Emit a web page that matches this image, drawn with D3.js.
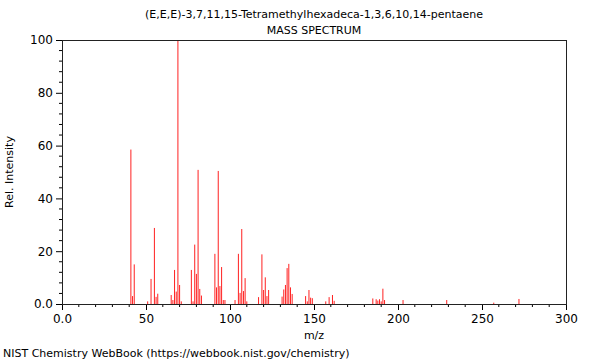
<!DOCTYPE html>
<html><head><meta charset="utf-8">
<script src="https://cdn.jsdelivr.net/npm/d3@7"></script>
<style>body{margin:0;background:#fff}svg{display:block}text{font-family:"DejaVu Sans",sans-serif;fill:#000}</style>
</head><body><svg id="c" width="600" height="360"></svg>
<script>
const mz = [41,42,43,51,53,55,56,57,65,66,67,68,69,70,71,77,78,79,80,81,82,83,91,92,93,94,95,96,97,103,105,106,107,108,109,110,117,119,120,121,122,123,131,132,133,134,135,136,137,145,146,147,148,149,157,159,161,162,185,187,188,189,190,191,192,203,229,257,272];
const intensity = [58.5,3,15,1,9.5,28.8,2.7,3.9,3.4,1.5,12.9,4.7,100,7.2,1,12.9,1,22.5,11.4,50.8,5.7,3.2,19,6.3,50.4,6.8,14,1.5,1.5,1.5,19,4.2,28.4,4.9,9.8,1,2.6,18.8,5.3,10.1,3,5.3,2.8,5.5,7.2,13.6,15.2,6.3,3.8,3,1,5.3,2.4,2.2,1,2.6,3.4,1.2,2.1,1.8,1.3,1.8,1,5.8,1.5,1.5,1.5,0.5,1.9];
const xMajor = [0,50,100,150,200,250,300];
const xLabels = ["0.0","50","100","150","200","250","300"];
const yMajor = [0,20,40,60,80,100];
const yLabels = ["0.0","20","40","60","80","100"];
const title1 = "(E,E,E)-3,7,11,15-Tetramethylhexadeca-1,3,6,10,14-pentaene";
const title2 = "MASS SPECTRUM";

const svg = d3.select("#c");
const L=62,R=566,T=40,B=304;
const x = d3.scaleLinear().domain([0,300]).range([L,R]);
const y = d3.scaleLinear().domain([0,100]).range([B,T]);

// peaks
svg.append("g").selectAll("line").data(mz).join("line")
  .attr("x1",(d)=>x(d)).attr("x2",(d)=>x(d))
  .attr("y1",y(0)).attr("y2",(d,i)=>y(intensity[i]))
  .attr("stroke","#ff2020").attr("stroke-width",1);

// x axis
const xAxis = d3.axisBottom(x).tickValues(xMajor).tickFormat((d,i)=>xLabels[i]).tickSize(6).tickPadding(4);
const gx = svg.append("g").attr("transform",`translate(0,${B})`).call(xAxis);
gx.select(".domain").remove();
gx.selectAll("text").style("font-size","12px");
const xMinor = d3.range(0,301,10).filter(v=>v%50!==0);
svg.append("g").selectAll("line").data(xMinor).join("line")
  .attr("x1",d=>x(d)).attr("x2",d=>x(d)).attr("y1",B).attr("y2",B+3).attr("stroke","#000");

// y axis
const yAxis = d3.axisLeft(y).tickValues(yMajor).tickFormat((d,i)=>yLabels[i]).tickSize(6).tickPadding(3);
const gy = svg.append("g").attr("transform",`translate(${L},0)`).call(yAxis);
gy.select(".domain").remove();
gy.selectAll("text").style("font-size","12px");
const yMinor = d3.range(0,101,4).filter(v=>v%20!==0);
svg.append("g").selectAll("line").data(yMinor).join("line")
  .attr("x1",L-3).attr("x2",L).attr("y1",d=>y(d)).attr("y2",d=>y(d)).attr("stroke","#000");

// frame
svg.append("rect").attr("x",L+0.5).attr("y",T+0.5).attr("width",R-L).attr("height",B-T)
  .attr("fill","none").attr("stroke","#222").attr("stroke-width",1);

// titles
svg.append("text").attr("x",(L+R)/2).attr("y",18).attr("text-anchor","middle").style("font-size","11px").text(title1);
svg.append("text").attr("x",(L+R)/2).attr("y",34).attr("text-anchor","middle").style("font-size","11px").text(title2);
svg.append("text").attr("x",(L+R)/2).attr("y",339).attr("text-anchor","middle").style("font-size","11px").text("m/z");
svg.append("text").attr("transform",`translate(13,${(T+B)/2}) rotate(-90)`).attr("text-anchor","middle").style("font-size","11px").text("Rel. Intensity");
svg.append("text").attr("x",3).attr("y",357).style("font-size","11px").text("NIST Chemistry WebBook (https://webbook.nist.gov/chemistry)");
</script></body></html>
